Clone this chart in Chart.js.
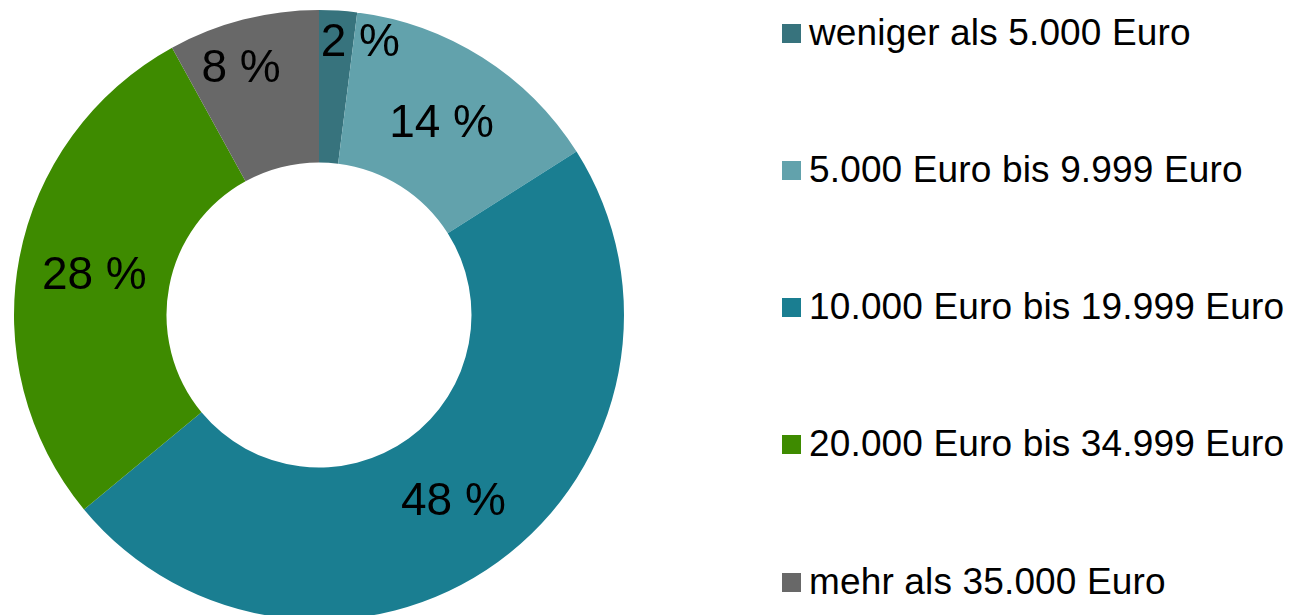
<!DOCTYPE html>
<html>
<head>
<meta charset="utf-8">
<script src="https://cdn.jsdelivr.net/npm/chart.js@4/dist/chart.umd.min.js"></script>
<style>
    html, body { margin: 0; padding: 0; background: #fff; overflow: hidden; }
    body { width: 1302px; height: 615px; position: relative; font-family: "Liberation Sans", Arial, sans-serif; }
    #chart_box { position: absolute; left: 0; top: 0; width: 638px; height: 630px; }
    #legend { position: absolute; left: 782px; top: 0; }
    .legend_item { position: absolute; left: 0; height: 40px; display: flex; align-items: center; white-space: nowrap; }
    .legend_box { width: 19px; height: 19px; margin-right: 8px; flex: none; }
    .legend_text { font-size: 37px; line-height: 40px; color: #000; letter-spacing: 0.15px; }
</style>
</head>
<body>
<div id="chart_box"><canvas id="donut_graph"></canvas></div>
<div id="legend"></div>
<script>
// ----------------------------- data ---------------------- >>
var categories = [
    'weniger als 5.000 Euro',
    '5.000 Euro bis 9.999 Euro',
    '10.000 Euro bis 19.999 Euro',
    '20.000 Euro bis 34.999 Euro',
    'mehr als 35.000 Euro'
];
var shares = [2, 14, 48, 28, 8];
var sliceColors = ['#37737d', '#62a2ac', '#1a7e91', '#3e8b00', '#686868'];

// small slices get their label pushed out a bit (like the original)
var labelShift = [[27, -43], [0, 2], [0, 2], [0, 4], [-21, -24]];
var legendCenters = [33, 170, 307, 444, 582];

// ----------------------------- labels plugin ---------------------- >>
var sliceLabels = {
    id: 'sliceLabels',
    afterDatasetsDraw: function (chart) {
        var ctx = chart.ctx;
        var meta = chart.getDatasetMeta(0);
        ctx.save();
        ctx.font = '46px "Liberation Sans", Arial, sans-serif';
        ctx.fillStyle = '#000';
        ctx.textAlign = 'center';
        ctx.textBaseline = 'middle';
        meta.data.forEach(function (arc, i) {
            var p = arc.tooltipPosition();
            var s = labelShift[i];
            ctx.fillText(shares[i] + ' %', p.x + s[0], p.y + s[1]);
        });
        ctx.restore();
    }
};

// ----------------------------- graph ---------------------- >>
var ctx = document.getElementById('donut_graph').getContext('2d');
var myChart = new Chart(ctx, {
    type: 'doughnut',
    data: {
        labels: categories,
        datasets: [{
            data: shares,
            backgroundColor: sliceColors,
            borderWidth: 0
        }]
    },
    options: {
        responsive: true,
        maintainAspectRatio: false,
        animation: false,
        cutout: '50%',
        layout: {
            padding: { top: 10, bottom: 10, left: 14, right: 14 }
        },
        plugins: {
            legend: { display: false },
            tooltip: { enabled: false }
        }
    },
    plugins: [sliceLabels]
});

// ----------------------------- legend ---------------------- >>
var legend = document.getElementById('legend');
for (var i = 0; i < categories.length; i++) {
    legend.innerHTML += '<div class="legend_item" style="top:' + (legendCenters[i] - 20) + 'px">' +
        '<div class="legend_box" style="background:' + sliceColors[i] + '"></div>' +
        '<span class="legend_text">' + categories[i] + '</span></div>';
}
</script>
</body>
</html>
